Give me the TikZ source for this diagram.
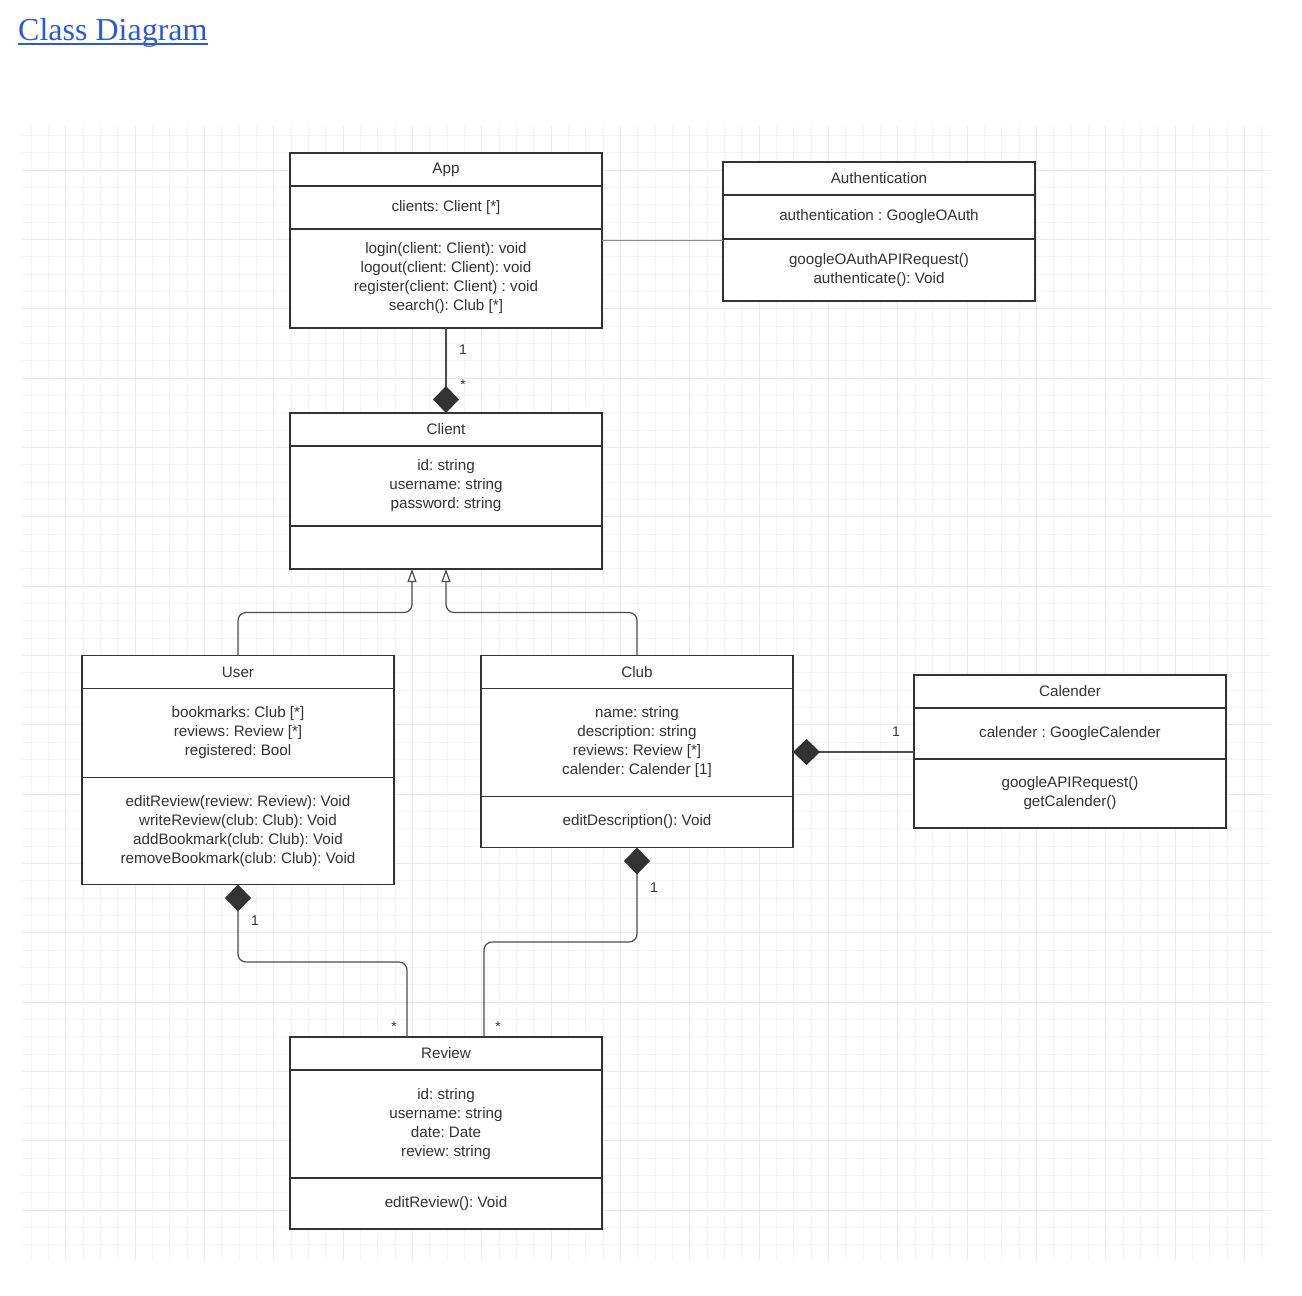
\documentclass[tikz,border=0pt]{standalone}
\usepackage{fontspec}
\setmainfont{Liberation Sans}
\newfontfamily\headserif{Liberation Serif}
\usetikzlibrary{arrows.meta}
\frenchspacing

\definecolor{linkblue}{HTML}{2A5BD7}
\definecolor{boxline}{HTML}{333333}
\definecolor{boxtext}{HTML}{333333}
\definecolor{connline}{HTML}{4D4D4D}
\definecolor{assocline}{HTML}{8C8C8C}
\definecolor{gridminor}{HTML}{F4F4F4}
\definecolor{gridmajor}{HTML}{EAEAEA}

\tikzset{
  compart/.style={draw=boxline, line width=1.8pt, fill=white, minimum width=312pt,
    inner sep=0pt, outer sep=0pt, align=center, text=boxtext,
    font=\fontsize{15.2}{19}\selectfont, anchor=north west},
  compline/.style={draw=connline, line width=1.2pt, rounded corners=8pt,
    -{Diamond[length=27pt, width=26pt, color=boxline]}},
  genline/.style={draw=connline, line width=1.2pt, rounded corners=8pt,
    -{Triangle[open, length=13pt, width=9pt, fill=white]}},
  assocline/.style={draw=assocline, line width=1pt},
  mult/.style={text=boxtext, font=\fontsize{14}{16}\selectfont, inner sep=0pt},
}

% one UML class: name, x, y, title, attribute height, attributes, method height, methods
\newcommand\umlclass[8]{%
  \node[compart, minimum height=33pt] (#1-t) at (#2,#3) {#4};
  \node[compart, minimum height=#5pt, anchor=north] (#1-a) at (#1-t.south) {#6};
  \node[compart, minimum height=#7pt, anchor=north] (#1-m) at (#1-a.south) {#8};
}

\begin{document}
\begin{tikzpicture}[x=1pt, y=-1pt]
\useasboundingbox (0,0) rectangle (1302,1296);

% heading
\node[anchor=base west, inner sep=0pt, text=linkblue,
      font=\headserif\fontsize{32}{36}\selectfont] (title) at (18,40.5) {Class Diagram};
\draw[linkblue, line width=2.4pt] ([yshift=-3.5pt]title.base west) -- ([yshift=-3.5pt]title.base east);

% background grid
\begin{scope}
  \clip (22,126) rectangle (1270,1260);
  \foreach \i in {-2,...,69} {
    \pgfmathsetmacro\gx{65.7+17.333*\i}
    \draw[gridminor, line width=1pt] (\gx,126) -- (\gx,1260);
  }
  \foreach \j in {-2,...,63} {
    \pgfmathsetmacro\gy{170.3+17.333*\j}
    \draw[gridminor, line width=1pt] (22,\gy) -- (1270,\gy);
  }
  \foreach \i in {0,...,17} {
    \pgfmathsetmacro\gx{65.7+69.333*\i}
    \draw[gridmajor, line width=1pt] (\gx,126) -- (\gx,1260);
  }
  \foreach \j in {0,...,15} {
    \pgfmathsetmacro\gy{170.3+69.333*\j}
    \draw[gridmajor, line width=1pt] (22,\gy) -- (1270,\gy);
  }
\end{scope}

% classes
\umlclass{app}{290}{153}{App}{43}{clients: Client [*]}{99}%
  {login(client: Client): void\\logout(client: Client): void\\register(client: Client) : void\\search(): Club [*]}
\umlclass{auth}{723}{162}{Authentication}{44}{authentication : GoogleOAuth}{62}%
  {googleOAuthAPIRequest()\\authenticate(): Void}
\umlclass{client}{290}{413}{Client}{80}{id: string\\username: string\\password: string}{43}{}
\umlclass{user}{82}{655.5}{User}{89}{bookmarks: Club [*]\\reviews: Review [*]\\registered: Bool}{107}%
  {editReview(review: Review): Void\\writeReview(club: Club): Void\\addBookmark(club: Club): Void\\removeBookmark(club: Club): Void}
\umlclass{club}{481}{655.5}{Club}{108}{name: string\\description: string\\reviews: Review [*]\\calender: Calender [1]}{51}%
  {editDescription(): Void}
\umlclass{cal}{914}{675}{Calender}{51}{calender : GoogleCalender}{69}%
  {googleAPIRequest()\\getCalender()}
\umlclass{review}{290}{1037}{Review}{108}{id: string\\username: string\\date: Date\\review: string}{51}%
  {editReview(): Void}

% associations
\draw[assocline] (app-m.east |- 0,240) -- (auth-m.west |- 0,240);
\draw[compline] (app-m.south) -- (client-t.north);
\draw[genline] (user-t.north) -- ++(0,-43) -| ([xshift=-34pt]client-m.south);
\draw[genline] (club-t.north) -- ++(0,-43) -| (client-m.south);
\draw[compline] (cal-a.west |- 0,752) -- (club-a.east |- 0,752);
\draw[compline] (484,0 |- review-t.north) -- ++(0,-95) -| (club-m.south);
\draw[compline] (407,0 |- review-t.north) -- ++(0,-75) -| (user-m.south);

% multiplicities
\node[mult] (m-app) at (463,350) {1};
\node[mult] (m-client) at (463,385) {*};
\node[mult] (m-cal) at (896,732) {1};
\node[mult] (m-club) at (654,888) {1};
\node[mult] (m-revclub) at (498,1027) {*};
\node[mult] (m-user) at (255,921) {1};
\node[mult] (m-revuser) at (394,1027) {*};
\end{tikzpicture}
\end{document}
